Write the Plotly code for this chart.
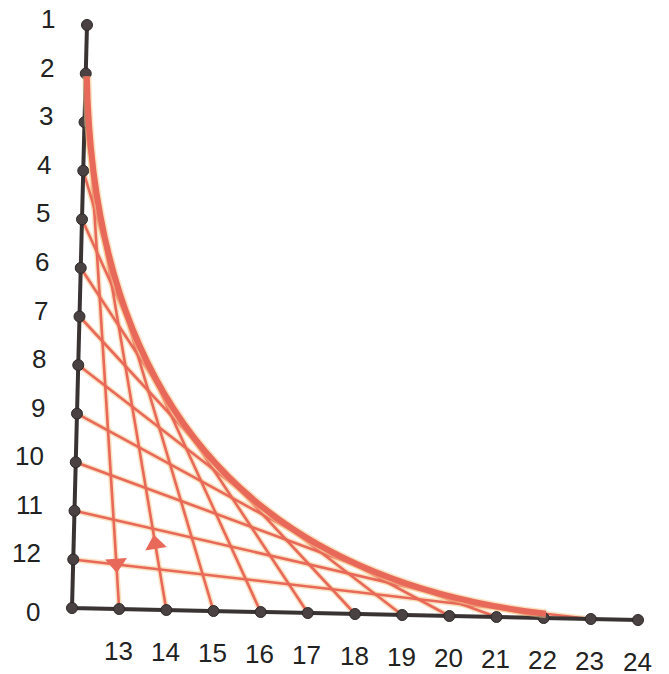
import plotly.graph_objects as go

# ---- data ----
vertical_labels = ["1", "2", "3", "4", "5", "6", "7", "8", "9", "10", "11", "12"]
horizontal_labels = ["13", "14", "15", "16", "17", "18", "19", "20", "21", "22", "23", "24"]
origin_label = "0"
thread_start = [2, 3, 4, 5, 6, 7, 8, 9, 10, 11, 12]       # points on the vertical axis
thread_end = [13, 14, 15, 16, 17, 18, 19, 20, 21, 22, 23]  # points on the horizontal axis

# ---- geometry (slightly skewed axes, as in the printed figure) ----
O = (72.0, 608.0)
HU = ((638 - 72) / 12.0, (620 - 608) / 12.0)   # one step along the horizontal axis
VU = ((87 - 72) / 12.0, (25 - 608) / 12.0)     # one step up the vertical axis
PAGE_OFF = 8  # default body margin of the html page


def pos(u, v):
    return (O[0] + u * HU[0] + v * VU[0], O[1] + u * HU[1] + v * VU[1])


def vpos(k):
    return pos(0, 13 - k)


def hpos(n):
    return pos(n - 12, 0)


RED = "#e8685a"
HALO = "rgba(246,200,140,0.55)"
AXIS = "#3a3333"
DOT = "#4a4242"

fig = go.Figure()
shapes = []

# thread lines (halo + line)
for s, e in zip(thread_start, thread_end):
    x0, y0 = vpos(s)
    x1, y1 = hpos(e)
    fig.add_trace(go.Scatter(x=[x0, x1], y=[y0, y1], mode="lines",
                             line=dict(color=HALO, width=5.5), hoverinfo="skip", showlegend=False))
for s, e in zip(thread_start, thread_end):
    x0, y0 = vpos(s)
    x1, y1 = hpos(e)
    fig.add_trace(go.Scatter(x=[x0, x1], y=[y0, y1], mode="lines",
                             line=dict(color=RED, width=2.6), hoverinfo="skip", showlegend=False))

# envelope curve (quadratic Bezier with the corner as control point), trimmed
P0 = vpos(1)
P1 = O
P2 = hpos(24)


def bez(t):
    return tuple((1 - t) ** 2 * P0[i] + 2 * (1 - t) * t * P1[i] + t ** 2 * P2[i] for i in range(2))


def blossom(a, b):
    return tuple((1 - a) * (1 - b) * P0[i] + ((1 - a) * b + a * (1 - b)) * P1[i] + a * b * P2[i]
                 for i in range(2))


t0, t1 = 0.045, 0.915
A = bez(t0)
C = blossom(t0, t1)
B = bez(t1)
curve_path = f"M {A[0]:.2f},{A[1]:.2f} Q {C[0]:.2f},{C[1]:.2f} {B[0]:.2f},{B[1]:.2f}"
shapes.append(dict(type="path", path=curve_path, xref="x", yref="y",
                   line=dict(color=HALO, width=9), layer="above"))
shapes.append(dict(type="path", path=curve_path, xref="x", yref="y",
                   line=dict(color=RED, width=6), layer="above"))

# axes
top = vpos(1)
right = hpos(24)
fig.add_trace(go.Scatter(x=[top[0], O[0], right[0]], y=[top[1], O[1], right[1]], mode="lines",
                         line=dict(color=AXIS, width=4), hoverinfo="skip", showlegend=False))

# dots
vx = [vpos(int(l))[0] for l in vertical_labels]
vy = [vpos(int(l))[1] for l in vertical_labels]
hx = [hpos(int(l))[0] for l in horizontal_labels]
hy = [hpos(int(l))[1] for l in horizontal_labels]
fig.add_trace(go.Scatter(x=vx + [O[0]] + hx, y=vy + [O[1]] + hy, mode="markers",
                         marker=dict(color=DOT, size=11, line=dict(color="#2e2828", width=1)),
                         hoverinfo="skip", showlegend=False))

# direction arrows on the first two threads
a0 = vpos(thread_start[0]); b0 = hpos(thread_end[0])
a1 = vpos(thread_start[1]); b1 = hpos(thread_end[1])
ta, tb = 0.915, 0.865
arr_x = [a0[0] + ta * (b0[0] - a0[0]), a1[0] + tb * (b1[0] - a1[0])]
arr_y = [a0[1] + ta * (b0[1] - a0[1]), a1[1] + tb * (b1[1] - a1[1])]
fig.add_trace(go.Scatter(x=arr_x, y=arr_y, mode="markers",
                         marker=dict(symbol=["triangle-down", "triangle-up"], size=19, color=RED,
                                     angle=[-3.5, -9.4]),
                         hoverinfo="skip", showlegend=False))

# labels
FONT = dict(family="Liberation Sans, Arial, sans-serif", size=26, color="#222222")
ann = []
for l in vertical_labels:
    x, y = vpos(int(l))
    ann.append(dict(x=x - 30, y=y - 6, text=l, showarrow=False, xanchor="right", yanchor="middle",
                    font=FONT, xref="x", yref="y"))
ann.append(dict(x=O[0] - 30, y=O[1] + 4, text=origin_label, showarrow=False, xanchor="right",
                yanchor="middle", font=FONT, xref="x", yref="y"))
for l in horizontal_labels:
    x, y = hpos(int(l))
    ann.append(dict(x=x - 1, y=y + 42, text=l, showarrow=False, xanchor="center", yanchor="middle",
                    font=FONT, xref="x", yref="y"))

# pinkish strip at the top edge of the scan
shapes.append(dict(type="rect", x0=200, x1=700, y0=0, y1=3, xref="x", yref="y",
                   fillcolor="rgba(235,170,195,0.6)", line=dict(width=0), layer="below"))
shapes.append(dict(type="rect", x0=420, x1=700, y0=0, y1=5, xref="x", yref="y",
                   fillcolor="rgba(210,100,140,0.8)", line=dict(width=0), layer="below"))

fig.update_layout(
    width=669, height=674,
    margin=dict(l=0, r=0, t=0, b=0),
    paper_bgcolor="white", plot_bgcolor="white",
    xaxis=dict(range=[PAGE_OFF, 669 + PAGE_OFF], visible=False, fixedrange=True),
    yaxis=dict(range=[674 + PAGE_OFF, PAGE_OFF], visible=False, fixedrange=True),
    shapes=shapes, annotations=ann,
)

fig.write_html("out.html")
